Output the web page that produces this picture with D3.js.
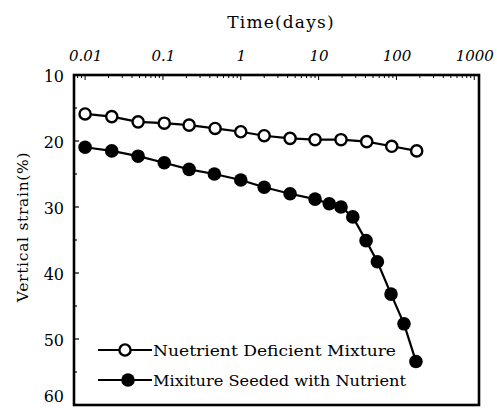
<!DOCTYPE html>
<html><head><meta charset="utf-8">
<script src="https://cdn.jsdelivr.net/npm/d3@7"></script>
<style>body{margin:0;background:#fff}svg{display:block}</style>
</head><body>
<svg id="c" width="497" height="408"></svg>
<script>
const seriesNames = ["Nuetrient Deficient Mixture", "Mixiture Seeded with Nutrient"];
const timeDeficient = [0.01, 0.022, 0.048, 0.104, 0.217, 0.468, 1, 2, 4.3, 9, 19.4, 41.5, 87, 182];
const strainDeficient = [15.9, 16.3, 17.1, 17.3, 17.6, 18.1, 18.6, 19.2, 19.6, 19.8, 19.8, 20.1, 20.8, 21.5];
const timeSeeded = [0.01, 0.022, 0.048, 0.104, 0.217, 0.458, 1, 2, 4.3, 9, 13.7, 19.4, 27.5, 40.7, 56.9, 85.2, 125, 178];
const strainSeeded = [20.95, 21.5, 22.3, 23.3, 24.3, 25.0, 25.9, 27.0, 28.0, 28.8, 29.5, 30.0, 31.5, 35.1, 38.3, 43.2, 47.7, 53.4];
const xTicks = [0.01, 0.1, 1, 10, 100, 1000];
const xTickLabels = ["0.01", "0.1", "1", "10", "100", "1000"];
const yTicks = [10, 20, 30, 40, 50, 60];
const xTitle = "Time(days)";
const yTitle = "Vertical strain(%)";

const svg = d3.select("#c");
const L = 74, R = 479, T = 75, B = 405;
const x = d3.scaleLog().domain([0.0072, 1150]).range([L, R]);
const y = d3.scaleLinear().domain([10, 60]).range([T, B]);
const serif = "'DejaVu Serif', 'Liberation Serif', serif";

// top axis
const topAxis = d3.axisTop(x).tickValues(xTicks).tickFormat((d, i) => xTickLabels[i]).tickSize(0).tickPadding(14);
const gt = svg.append("g").attr("transform", `translate(0,${T})`).call(topAxis);
gt.select(".domain").remove();
gt.selectAll("text").attr("font-family", serif).attr("font-style", "italic").attr("font-size", 15).attr("fill", "#000");
// top ticks (inward) major and minor
const minor = [];
for (let e = -3; e <= 3; e++) for (let m = 1; m <= 9; m++) { const v = m * Math.pow(10, e); if (v >= 0.0072 && v <= 1150) minor.push(v); }
svg.append("g").selectAll("line").data(minor).join("line")
  .attr("x1", d => x(d)).attr("x2", d => x(d)).attr("y1", T).attr("y2", d => T + (xTicks.includes(d) ? 5 : 3))
  .attr("stroke", "#000").attr("stroke-width", 1);

// left axis
const leftAxis = d3.axisLeft(y).tickValues(yTicks).tickSize(0).tickPadding(10);
const gl = svg.append("g").attr("transform", `translate(${L},0)`).call(leftAxis);
gl.select(".domain").remove();
gl.selectAll("text").attr("font-family", serif).attr("font-size", 16).attr("fill", "#000")
  .attr("dy", d => d === 60 ? "-0.25em" : "0.4em");
svg.append("g").selectAll("line").data(d3.range(10, 61, 5)).join("line")
  .attr("x1", L).attr("x2", d => L + (d % 10 === 0 ? 5 : 3)).attr("y1", d => y(d)).attr("y2", d => y(d))
  .attr("stroke", "#000").attr("stroke-width", 1.2);

// frame
svg.append("rect").attr("x", L).attr("y", T).attr("width", R - L).attr("height", B - T)
  .attr("fill", "none").attr("stroke", "#000").attr("stroke-width", 2.6);

// titles
svg.append("text").attr("x", 281).attr("y", 28).attr("text-anchor", "middle")
  .attr("font-family", serif).attr("font-size", 17).attr("letter-spacing", 1.2).text(xTitle);
svg.append("text").attr("transform", `translate(28,227) rotate(-90)`).attr("text-anchor", "middle")
  .attr("font-family", serif).attr("font-size", 15.5).attr("letter-spacing", 0.7).text(yTitle);

// series
const line = d3.line().x(d => x(d[0])).y(d => y(d[1]));
const dDef = timeDeficient.map((t, i) => [t, strainDeficient[i]]);
const dSeed = timeSeeded.map((t, i) => [t, strainSeeded[i]]);
svg.append("path").attr("d", line(dSeed)).attr("fill", "none").attr("stroke", "#000").attr("stroke-width", 2.2);
svg.append("g").selectAll("circle").data(dSeed).join("circle")
  .attr("cx", d => x(d[0])).attr("cy", d => y(d[1])).attr("r", 6.8).attr("fill", "#000");
svg.append("path").attr("d", line(dDef)).attr("fill", "none").attr("stroke", "#000").attr("stroke-width", 2.2);
svg.append("g").selectAll("circle").data(dDef).join("circle")
  .attr("cx", d => x(d[0])).attr("cy", d => y(d[1])).attr("r", 5.6).attr("fill", "#fff").attr("stroke", "#000").attr("stroke-width", 2.4);

// legend
const leg = [{y: 350, open: true, w: 243}, {y: 380, open: false, w: 253}];
leg.forEach((l, i) => {
  svg.append("line").attr("x1", 98).attr("x2", 152).attr("y1", l.y).attr("y2", l.y).attr("stroke", "#000").attr("stroke-width", 2.2);
  if (l.open) svg.append("circle").attr("cx", 125).attr("cy", l.y).attr("r", 5.6).attr("fill", "#fff").attr("stroke", "#000").attr("stroke-width", 2.4);
  else svg.append("circle").attr("cx", 128).attr("cy", l.y).attr("r", 6.8).attr("fill", "#000");
  svg.append("text").attr("x", 153).attr("y", l.y + 6).attr("font-family", serif).attr("font-size", 14.5)
    .attr("textLength", l.w).attr("lengthAdjust", "spacingAndGlyphs").text(seriesNames[i]);
});
</script>
</body></html>
